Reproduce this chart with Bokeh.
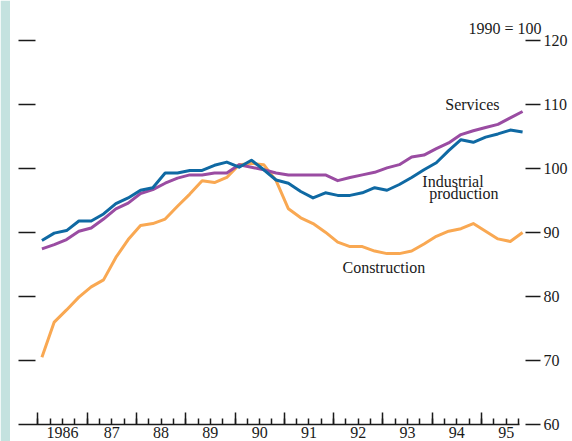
from bokeh.plotting import figure
from bokeh.models import LinearAxis, FixedTicker, Label, Range1d, BoxAnnotation
from bokeh.embed import file_html
from bokeh.resources import INLINE

# Quarterly observations, 1986 Q1 .. 1995 Q4 (index, 1990 = 100)
quarters = [1986 + 1 / 12 + 0.25 * i for i in range(40)]

industrial = [88.75, 89.9, 90.3, 91.8, 91.8, 92.9, 94.5, 95.4, 96.6, 97.0,
              99.3, 99.3, 99.7, 99.7, 100.5, 101.0, 100.2, 101.3, 99.8, 98.2,
              97.7, 96.4, 95.4, 96.2, 95.8, 95.8, 96.2, 97.0, 96.6, 97.5,
              98.6, 99.8, 100.9, 102.8, 104.5, 104.1, 104.9, 105.4, 106.0, 105.7]

services = [87.45, 88.1, 88.9, 90.2, 90.7, 92.1, 93.7, 94.6, 96.1, 96.7,
            97.7, 98.5, 99.0, 99.0, 99.3, 99.3, 100.6, 100.2, 99.8, 99.3,
            99.0, 99.0, 99.0, 99.0, 98.1, 98.6, 99.0, 99.4, 100.1, 100.6,
            101.8, 102.1, 103.1, 104.0, 105.3, 105.9, 106.4, 106.9, 107.9, 108.9]

construction = [70.5, 76.0, 77.9, 79.9, 81.5, 82.6, 86.1, 88.9, 91.1, 91.4,
                92.1, 94.1, 96.0, 98.1, 97.8, 98.6, 100.6, 100.8, 100.6, 98.1,
                93.7, 92.3, 91.4, 90.05, 88.5, 87.8, 87.8, 87.1, 86.7, 86.7,
                87.1, 88.2, 89.4, 90.2, 90.6, 91.4, 90.2, 89.0, 88.6, 90.0]

year_bounds = list(range(1986, 1996))
quarter_ticks = [1986 + 0.25 * k for k in range(40)]
mid_years = [y + 0.5 for y in year_bounds]
year_labels = ["1986", "87", "88", "89", "90", "91", "92", "93", "94", "95"]
value_ticks = [60, 70, 80, 90, 100, 110, 120]

BLUE = "#0f69a3"
PURPLE = "#9a4ca2"
ORANGE = "#f9a852"
INK = "#1a1a1a"
FONT = "Liberation Serif"

# frame covers the whole canvas; axes are pinned at fixed locations
x0, x1 = 1985.2434, 1996.8458
y0, y1 = 57.344, 126.25
x_axis_start = 1985.6085   # left end of the baseline / left tick column
x_axis_end = 1995.77
x_right_ticks = 1995.8925

p = figure(width=572, height=441, output_backend="svg", toolbar_location=None,
           x_range=Range1d(x0, x1), y_range=Range1d(y0, y1),
           min_border=0, min_border_left=0, min_border_right=0,
           min_border_top=0, min_border_bottom=0, outline_line_color=None,
           background_fill_color="white", border_fill_color="white")
p.grid.visible = False

# pale teal strip at the left edge
p.add_layout(BoxAnnotation(left=x0, right=1985.436, fill_color="#c4e2df",
                           fill_alpha=1, line_color=None, level="underlay"))

# bottom axis: baseline with yearly and quarterly ticks pointing up
xa = p.xaxis[0]
xa.fixed_location = 60
xa.ticker = FixedTicker(ticks=year_bounds, minor_ticks=quarter_ticks)
xa.bounds = (x_axis_start, x_axis_end)
xa.major_tick_in = 12
xa.major_tick_out = 0
xa.minor_tick_in = 6
xa.minor_tick_out = 0
xa.axis_line_color = INK
xa.axis_line_width = 1.5
xa.major_tick_line_color = INK
xa.major_tick_line_width = 1.5
xa.minor_tick_line_color = INK
xa.minor_tick_line_width = 1.5
xa.major_label_text_font_size = "0px"
xa.major_label_standoff = 0
xa.major_label_overrides = {y: "" for y in year_bounds}

# year labels centred in each year
la = LinearAxis(ticker=FixedTicker(ticks=mid_years), fixed_location=60,
                major_label_overrides={m: t for m, t in zip(mid_years, year_labels)},
                major_tick_in=0, major_tick_out=0, minor_tick_in=0, minor_tick_out=0,
                major_tick_line_color=None, minor_tick_line_color=None,
                axis_line_color=None, major_label_standoff=2,
                major_label_text_font=FONT, major_label_text_font_size="16px",
                major_label_text_color=INK)
p.add_layout(la, "below")

# left axis: ticks only
ya = p.yaxis[0]
ya.fixed_location = x_axis_start
ya.ticker = FixedTicker(ticks=value_ticks[1:])
ya.major_tick_in = 17
ya.major_tick_out = 0
ya.major_tick_line_color = INK
ya.major_tick_line_width = 1.5
ya.minor_tick_line_color = None
ya.axis_line_color = None
ya.major_label_text_font_size = "0px"
ya.major_label_standoff = 0
ya.major_label_overrides = {v: "" for v in value_ticks}

# right axis with labels
ra = LinearAxis(ticker=FixedTicker(ticks=value_ticks), fixed_location=x_right_ticks,
                major_tick_in=0, major_tick_out=15, major_tick_line_color=INK,
                major_tick_line_width=1.5, minor_tick_line_color=None,
                axis_line_color=None, major_label_standoff=3,
                major_label_text_font=FONT, major_label_text_font_size="16px",
                major_label_text_color=INK)
p.add_layout(ra, "right")

p.line(quarters, construction, line_color=ORANGE, line_width=3, line_join="round")
p.line(quarters, services, line_color=PURPLE, line_width=3, line_join="round")
p.line(quarters, industrial, line_color=BLUE, line_width=3, line_join="round")

def lab(x, y, t, align="left"):
    p.add_layout(Label(x=x, y=y, text=t, text_align=align, text_baseline="alphabetic",
                       text_font=FONT, text_font_size="16px", text_color=INK))

lab(1996.217, 121.8, "1990 = 100", "right")
lab(1995.365, 110.0, "Services", "right")
lab(1993.80, 98.0, "Industrial")
lab(1993.94, 96.1, "production")
lab(1992.18, 84.5, "Construction")

open("out.html", "w").write(file_html(p, INLINE))
